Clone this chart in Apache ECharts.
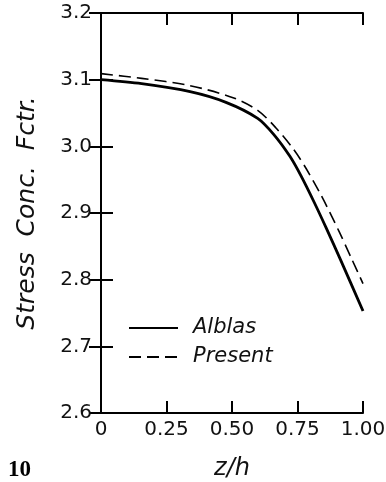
<!DOCTYPE html>
<html>
<head>
<meta charset="utf-8">
<script src="https://cdn.jsdelivr.net/npm/echarts@6/dist/echarts.min.js"></script>
<style>
  html, body { margin: 0; padding: 0; background: #fff; }
  #chart-container { width: 386px; height: 482px; }
</style>
</head>
<body>
<div id="chart-container"></div>
<script>
// values
var alblasZ = [0, 0.155, 0.34, 0.477, 0.598, 0.659, 0.721, 0.763, 0.815, 0.859, 0.914, 1.0];
var alblasK = [3.100, 3.094, 3.082, 3.066, 3.042, 3.018, 2.985, 2.956, 2.915, 2.878, 2.830, 2.753];
var presentZ = [0, 0.155, 0.34, 0.504, 0.598, 0.667, 0.736, 0.784, 0.845, 0.909, 0.957, 1.0];
var presentK = [3.109, 3.102, 3.091, 3.073, 3.054, 3.028, 2.995, 2.966, 2.923, 2.872, 2.831, 2.794];
var xTickLabels = ["0", "0.25", "0.50", "0.75", "1.00"];

function pairs(xs, ys) {
  return xs.map(function (x, i) { return [x, ys[i]]; });
}

var dom = document.getElementById("chart-container");
var myChart = echarts.init(dom, null, { renderer: "canvas" });

var axisLine = { show: true, lineStyle: { color: "#000", width: 2 } };
var axisTick = { show: true, inside: true, length: 12, lineStyle: { color: "#000", width: 2 } };
var labelFont = { color: "#111", fontFamily: "DejaVu Sans", fontSize: 20 };

var option = {
  backgroundColor: "#fff",
  animation: false,
  grid: { left: 101, right: 23, top: 13, bottom: 69, outerBoundsMode: "none", containLabel: false },
  xAxis: [
    {
      type: "value", min: 0, max: 1, interval: 0.25, position: "bottom",
      axisLine: axisLine, axisTick: axisTick, splitLine: { show: false },
      axisLabel: Object.assign({ margin: 7, formatter: function (v) {
        return xTickLabels[Math.round(v * 4)];
      } }, labelFont),
      name: "z/h", nameLocation: "middle", nameGap: 44,
      nameTextStyle: { fontFamily: "DejaVu Sans", fontStyle: "italic", fontSize: 24, color: "#111" }
    },
    {
      type: "value", min: 0, max: 1, interval: 0.25, position: "top",
      axisLine: axisLine, axisTick: axisTick, splitLine: { show: false },
      axisLabel: { show: false }
    }
  ],
  yAxis: [
    {
      type: "value", min: 2.6, max: 3.2, interval: 0.1, position: "left",
      axisLine: axisLine, axisTick: axisTick, splitLine: { show: false },
      axisLabel: Object.assign({ margin: 9, formatter: function (v) { return v.toFixed(1); } }, labelFont),
      name: "Stress  Conc.  Fctr.", nameLocation: "middle", nameGap: 61,
      nameTextStyle: { fontFamily: "DejaVu Sans", fontStyle: "italic", fontSize: 25, color: "#111" }
    },
    {
      type: "value", min: 2.6, max: 3.2, interval: 0.1, position: "right",
      axisLine: axisLine, axisTick: axisTick, splitLine: { show: false },
      axisLabel: { show: false }
    }
  ],
  legend: {
    orient: "vertical",
    left: 123,
    top: 312,
    itemWidth: 49,
    itemHeight: 14,
    itemGap: 7,
    itemStyle: { opacity: 0 },
    textStyle: {
      fontFamily: "DejaVu Sans", fontStyle: "italic", fontSize: 21, color: "#111",
      lineHeight: 22, padding: [0, 0, 0, 10]
    },
    data: ["Alblas", "Present"]
  },
  graphic: [
    {
      type: "text", left: 8, top: 459,
      style: { text: "10", fontFamily: "Liberation Serif", fontWeight: "bold", fontSize: 23, fill: "#000" }
    }
  ],
  series: [
    {
      name: "Alblas", type: "line", symbol: "none", smooth: 0.3,
      itemStyle: { color: "#000" },
      lineStyle: { color: "#000", width: 2.8, type: "solid" },
      data: pairs(alblasZ, alblasK)
    },
    {
      name: "Present", type: "line", symbol: "none", smooth: 0.3,
      itemStyle: { color: "#000" },
      lineStyle: { color: "#000", width: 1.6, type: [12, 6] },
      data: pairs(presentZ, presentK)
    }
  ]
};

myChart.setOption(option);
window.addEventListener("resize", myChart.resize);
</script>
</body>
</html>
